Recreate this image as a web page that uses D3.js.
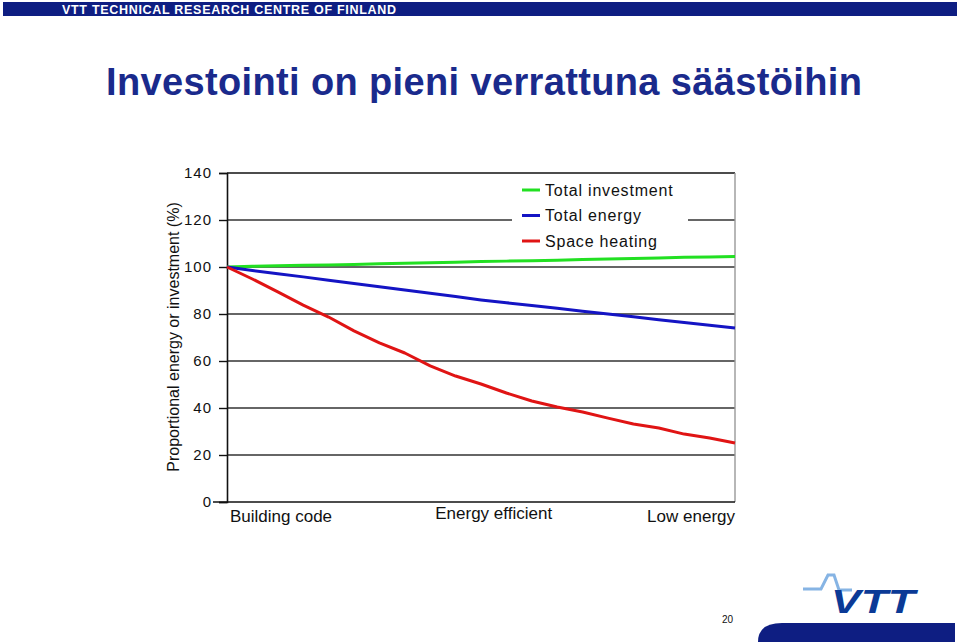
<!DOCTYPE html>
<html><head><meta charset="utf-8">
<script src="https://cdn.jsdelivr.net/npm/d3@7"></script>
<style>
body{margin:0;background:#fff;}
svg{display:block;font-family:"Liberation Sans",Arial,sans-serif;}
</style></head>
<body><svg id="c" width="960" height="642"></svg>
<script>
// ---- data ----
const steps = d3.range(0, 21);
const totalInvestment = [100.0,100.3,100.5,100.7,100.9,101.1,101.4,101.6,101.8,102.0,102.3,102.5,102.7,102.9,103.2,103.4,103.6,103.8,104.1,104.3,104.5];
const totalEnergy = [100.0,98.5,97.1,95.8,94.4,93.0,91.6,90.2,88.8,87.4,86.0,84.8,83.6,82.4,81.2,80.0,78.8,77.6,76.4,75.2,74.0];
const spaceHeating = [100.0,94.9,89.4,83.8,78.7,72.8,67.7,63.4,57.9,53.6,50.2,46.4,43.0,40.4,38.3,35.7,33.2,31.5,28.9,27.2,25.1];
const yTicks = [0,20,40,60,80,100,120,140];
const categories = [
  {label:"Building code", at:0, anchor:"start"},
  {label:"Energy efficient", at:10.5, anchor:"middle"},
  {label:"Low energy", at:20, anchor:"end"}
];
const seriesNames = ["Total investment","Total energy","Space heating"];
const seriesColors = ["#22e022","#1414c4","#e01414"];
const seriesData = [totalInvestment,totalEnergy,spaceHeating];

const svg = d3.select("#c");

// banner
svg.append("rect").attr("x",3).attr("y",2).attr("width",954).attr("height",14).attr("fill","#0e1e82");
svg.append("text").attr("x",62).attr("y",14).attr("fill","#fff").attr("font-weight","bold")
  .attr("font-size",12.5).attr("textLength",334).attr("lengthAdjust","spacing")
  .text("VTT TECHNICAL RESEARCH CENTRE OF FINLAND");

// title
svg.append("text").attr("x",106).attr("y",95).attr("fill","#1a2a8c").attr("font-weight","bold")
  .attr("font-size",38).attr("textLength",756).attr("lengthAdjust","spacing")
  .text("Investointi on pieni verrattuna säästöihin");

// scales
const x = d3.scaleLinear().domain([0,20]).range([227,735]);
const y = d3.scaleLinear().domain([0,140]).range([502,173]);

// gridlines
const g = svg.append("g");
g.selectAll("line.grid").data(yTicks.filter(d=>d>0)).join("line")
  .attr("x1",x(0)).attr("x2",x(20)).attr("y1",d=>y(d)).attr("y2",d=>y(d))
  .attr("stroke",d=>d===140?"#111":"#333").attr("stroke-width",1.4);
// right border
g.append("line").attr("x1",x(20)).attr("x2",x(20)).attr("y1",y(140)).attr("y2",y(0))
  .attr("stroke","#999").attr("stroke-width",1.4);

// y axis
const yAxis = d3.axisLeft(y).tickValues(yTicks).tickSize(8).tickPadding(7);
const ya = svg.append("g").attr("transform",`translate(${x(0)},0)`).call(yAxis);
ya.select(".domain").attr("stroke","#111").attr("stroke-width",1.6);
ya.selectAll(".tick line").attr("stroke","#111").attr("stroke-width",1.4);
ya.selectAll(".tick text").attr("font-size",15).attr("letter-spacing","1px")
  .attr("fill","#111").attr("font-family","Liberation Sans, Arial, sans-serif");
// bottom axis line
svg.append("line").attr("x1",x(0)-14).attr("x2",x(20)).attr("y1",y(0)).attr("y2",y(0))
  .attr("stroke","#111").attr("stroke-width",1.6);

// y label
svg.append("text").attr("transform","translate(179,337) rotate(-90)").attr("text-anchor","middle")
  .attr("font-size",16).attr("fill","#111").text("Proportional energy or investment (%)");

// category labels
svg.selectAll("text.cat").data(categories).join("text").attr("class","cat")
  .attr("x",d=>x(d.at)+(d.anchor==="start"?3:0)).attr("y",(d,i)=>i===1?519:522)
  .attr("text-anchor",d=>d.anchor).attr("font-size",17).attr("fill","#111").text(d=>d.label);

// legend box (white)
svg.append("rect").attr("x",512).attr("y",180).attr("width",176).attr("height",70).attr("fill","#fff");

// lines
const line = d3.line().x((d,i)=>x(steps[i])).y(d=>y(d));
svg.selectAll("path.series").data(seriesData).join("path").attr("class","series")
  .attr("d",line).attr("fill","none").attr("stroke",(d,i)=>seriesColors[i])
  .attr("stroke-width",3).attr("stroke-linejoin","round");

// legend
const lg = svg.append("g");
seriesNames.forEach((n,i)=>{
  const yy = 190 + i*25.5;
  lg.append("line").attr("x1",522).attr("x2",540).attr("y1",yy).attr("y2",yy)
    .attr("stroke",seriesColors[i]).attr("stroke-width",3);
  lg.append("text").attr("x",545).attr("y",yy+5.5).attr("font-size",16)
    .attr("letter-spacing","0.8px").attr("fill","#111").text(n);
});

// logo
svg.append("polyline").attr("points","803,589 821,589 828,575 834,575 839,590 852,590")
  .attr("fill","none").attr("stroke","#86b4e4").attr("stroke-width",3);
svg.append("text").attr("x",831).attr("y",613).attr("font-size",33).attr("font-weight","bold")
  .attr("font-style","italic").attr("fill","#0b3a96").attr("textLength",84)
  .attr("lengthAdjust","spacingAndGlyphs").text("VTT");

// page number
svg.append("text").attr("x",722).attr("y",623).attr("font-size",10).attr("fill","#111").text("20");

// bottom bar
svg.append("path").attr("d","M782,623 H955 V642 H758 Q758,623 782,623 Z").attr("fill","#0e1e82");
</script></body></html>
